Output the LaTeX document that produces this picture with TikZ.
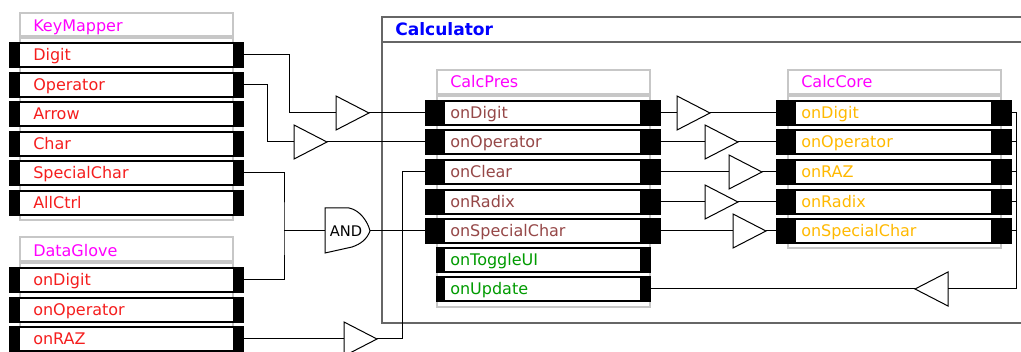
\documentclass[tikz,border=0pt]{standalone}
\usepackage{fontspec}
\newfontfamily\uifont{DejaVu Sans}
\usetikzlibrary{shapes.geometric}
\definecolor{portred}{RGB}{245,30,30}
\definecolor{presbrown}{RGB}{150,72,72}
\definecolor{outgreen}{RGB}{0,155,0}
\definecolor{coreorange}{RGB}{255,185,0}
\definecolor{titlepink}{RGB}{255,0,255}
% one port row: name, left x, right x, y, left block, right block, text style, text
\newcommand\port[8]{%
  \draw[portbox] (#2,{#4-12}) rectangle (#3,{#4+12});
  \fill (#2,{#4-12}) rectangle ({#2+#5},{#4+12});
  \fill ({#3-#6},{#4-12}) rectangle (#3,{#4+12});
  \node[#7] (#1) at ({#2+#5+5},{#4+6}) {#8};
  \coordinate (#1-in) at (#2,#4);
  \coordinate (#1-out) at (#3,#4);
}
\begin{document}
\begin{tikzpicture}[x=0.75pt, y=-0.75pt, font=\uifont\fontsize{12}{14}\selectfont,
    modframe/.style={draw=black!22, line width=1.1pt},
    calcframe/.style={draw=black!60, line width=1.1pt},
    portbox/.style={draw, fill=white, line width=1.4pt},
    title/.style={anchor=base west, inner sep=0, text=titlepink},
    kmtext/.style={anchor=base west, inner sep=0, text=portred, xshift=6pt},
    prestext/.style={anchor=base west, inner sep=0, text=presbrown},
    outtext/.style={anchor=base west, inner sep=0, text=outgreen},
    coretext/.style={anchor=base west, inner sep=0, text=coreorange},
    buf/.style={draw, fill=white, isosceles triangle, isosceles triangle stretches,
      minimum width=25.5pt, minimum height=24.75pt, inner sep=0, outer sep=0, line width=0.75pt},
    gate/.style={draw, fill=white, line width=0.75pt},
    wire/.style={line width=0.75pt}]
  \clip (0,0) rectangle (1021,352);
  % frames
  \draw[calcframe] (382,17) rectangle (1040,323);
  \draw[calcframe] (382,42) -- (1040,42);
  \node[anchor=base west, inner sep=0, text=blue, font=\uifont\bfseries\fontsize{12.8}{14}\selectfont] (calc) at (395,36) {Calculator};
  \draw[modframe] (20,13) rectangle (233,36);
  \draw[modframe] (20,38) rectangle (233,220);
  \node[title] (km) at (33,32) {KeyMapper};
  \draw[modframe] (20,237) rectangle (233,261);
  \draw[modframe] (20,263) rectangle (233,370);
  \node[title] (dg) at (33,257) {DataGlove};
  \draw[modframe] (437,70) rectangle (650,94);
  \draw[modframe] (437,96) rectangle (650,307);
  \node[title] (cp) at (450,88) {CalcPres};
  \draw[modframe] (788,70) rectangle (1001,94);
  \draw[modframe] (788,96) rectangle (1001,248);
  \node[title] (cc) at (801,88) {CalcCore};
  % ports
  \foreach \n/\t/\y in {digit/Digit/55, op/Operator/85, arrow/Arrow/114, char/Char/144, spec/SpecialChar/173, ctrl/AllCtrl/203}
    \port{km-\n}{10}{243}{\y}{10}{10}{kmtext}{\t};
  \foreach \n/\t/\y in {digit/onDigit/280, op/onOperator/310, raz/onRAZ/339}
    \port{dg-\n}{10}{243}{\y}{10}{10}{kmtext}{\t};
  \foreach \n/\t/\y in {digit/onDigit/113, op/onOperator/142, clear/onClear/172, radix/onRadix/202, spec/onSpecialChar/231}
    \port{cp-\n}{426}{660}{\y}{19}{20}{prestext}{\t};
  \port{cp-toggle}{437}{650}{260}{8}{10}{outtext}{onToggleUI}
  \port{cp-update}{437}{650}{289}{8}{10}{outtext}{onUpdate}
  \foreach \n/\t/\y in {digit/onDigit/113, op/onOperator/142, raz/onRAZ/172, radix/onRadix/202, spec/onSpecialChar/231}
    \port{cc-\n}{777}{1011}{\y}{19}{20}{coretext}{\t};
  % buffers and gate
  \node[buf, anchor=apex] (b-digit) at (369,113) {};
  \node[buf, anchor=apex] (b-op) at (327,142) {};
  \node[buf, anchor=apex] (b-raz) at (377,339) {};
  \node[buf, anchor=apex] (c-digit) at (710,113) {};
  \node[buf, anchor=apex] (c-op) at (738,142) {};
  \node[buf, anchor=apex] (c-raz) at (762,172) {};
  \node[buf, anchor=apex] (c-radix) at (738,202) {};
  \node[buf, anchor=apex] (c-spec) at (766,231) {};
  \node[buf, anchor=apex, shape border rotate=180] (c-back) at (915,289) {};
  \coordinate (and-in) at (325,231);
  \coordinate (and-out) at (370,231);
  \draw[gate] (325,208) -- (349,208) .. controls (360,210) and (368,222) .. (and-out)
    .. controls (367,239) and (361,244) .. (352,247) -- (325,253) -- cycle;
  \node[inner sep=0, font=\uifont\fontsize{11}{12}\selectfont] (and) at (346,231) {AND};
  % wires
  \draw[wire] (km-digit-out) -- ++(46,0) |- (b-digit.west);
  \draw[wire] (b-digit.apex) -- (cp-digit-in);
  \draw[wire] (km-op-out) -- ++(24,0) |- (b-op.west);
  \draw[wire] (b-op.apex) -- (cp-op-in);
  \coordinate (join) at (284,231);
  \draw[wire] (km-spec-out) -| (join) |- (dg-digit-out);
  \draw[wire] (join) -- (and-in);
  \draw[wire] (and-out) -- (cp-spec-in);
  \draw[wire] (dg-raz-out) -- (b-raz.west);
  \draw[wire] (b-raz.apex) -- ++(25,0) |- (cp-clear-in);
  \foreach \a/\b in {digit/digit, op/op, clear/raz, radix/radix, spec/spec} {
    \draw[wire] (cp-\a-out) -- (c-\b.west);
    \draw[wire] (c-\b.apex) -- (cc-\b-in);
  }
  \draw[wire] (cc-digit-out) -- ++(5,0) |- (c-back.east);
  \foreach \b in {op,raz,radix,spec} \draw[wire] (cc-\b-out) -- ++(5,0);
  \draw[wire] (c-back.apex) -- (cp-update-out);
\end{tikzpicture}
\end{document}
